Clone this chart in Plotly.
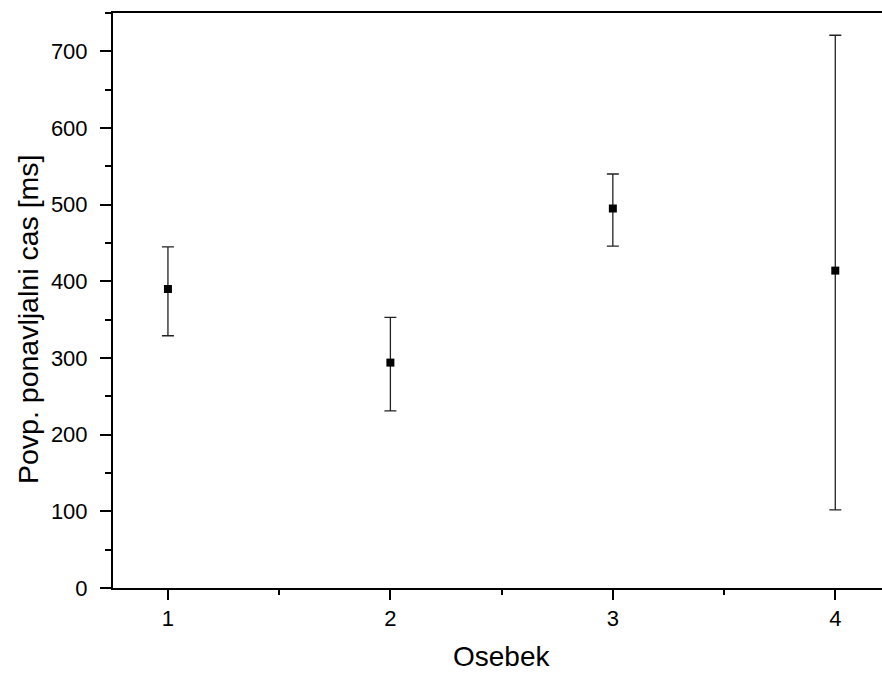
import plotly.graph_objects as go

osebek = [1, 2, 3, 4]
cas_povp = [390, 294, 495, 414]
napaka_zgoraj = [55, 59, 45, 307]
napaka_spodaj = [61, 63, 49, 312]
y_ticks = [0, 100, 200, 300, 400, 500, 600, 700]

font_family = "Liberation Sans, Arial, sans-serif"

fig = go.Figure()
fig.add_trace(go.Scatter(
    x=osebek, y=cas_povp, mode="markers",
    marker=dict(symbol="square", size=8, color="black"),
    error_y=dict(type="data", symmetric=False, array=napaka_zgoraj,
                 arrayminus=napaka_spodaj, color="#222222", thickness=1.3, width=6),
    showlegend=False,
))

fig.update_layout(
    width=882, height=675,
    margin=dict(l=113, r=0, t=13, b=87),
    paper_bgcolor="white", plot_bgcolor="white",
    font=dict(family=font_family, color="black"),
    xaxis=dict(
        range=[0.753, 4.21], tickvals=osebek, ticktext=[str(v) for v in osebek],
        showline=True, linewidth=2, linecolor="black", mirror=True,
        ticks="outside", ticklen=10, tickwidth=1.5, tickcolor="black",
        minor=dict(dtick=0.5, tick0=0.5, ticks="outside", ticklen=5, tickwidth=1.5, tickcolor="black"),
        showgrid=False, zeroline=False, automargin=False,
        tickfont=dict(size=22),
        ticklabelstandoff=0,
    ),
    yaxis=dict(
        range=[0, 750], tickvals=y_ticks,
        showline=True, linewidth=2, linecolor="black", mirror=False,
        ticks="outside", ticklen=11, tickwidth=2, tickcolor="black",
        minor=dict(dtick=50, tick0=0, ticks="outside", ticklen=6, tickwidth=2, tickcolor="black"),
        showgrid=False, zeroline=False, automargin=False,
        tickfont=dict(size=22),
        ticklabelstandoff=8,
    ),
    annotations=[
        dict(text="Osebek", xref="paper", yref="paper", x=(502 - 113) / 769, y=-(656 - 588) / 575,
             xanchor="center", yanchor="middle", showarrow=False, font=dict(size=28)),
        dict(text="Povp. ponavljalni cas [ms]", xref="paper", yref="paper",
             x=-(113 - 28) / 769, y=(588 - 319) / 575, textangle=-90,
             xanchor="center", yanchor="middle", showarrow=False, font=dict(size=28.5)),
    ],
)

fig.write_html("out.html", config={"responsive": False, "displayModeBar": False},
               post_script="document.body.style.margin='0px';document.body.style.overflow='hidden';")
